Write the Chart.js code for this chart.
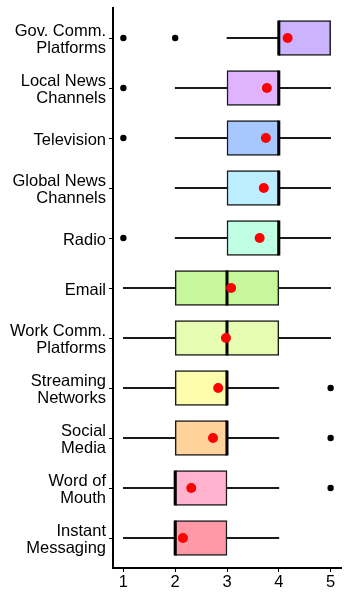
<!DOCTYPE html>
<html>
<head>
<meta charset="utf-8">
<script src="https://cdn.jsdelivr.net/npm/chart.js@4"></script>
<style>
  html, body { margin: 0; padding: 0; background: #fff; }
  #wrap { width: 350px; height: 600px; }
</style>
</head>
<body>
<div id="wrap"><canvas id="chart" width="350" height="600"></canvas></div>
<script>
// categories top to bottom
const categories = [
  'Gov. Comm.\nPlatforms', 'Local News\nChannels', 'Television', 'Global News\nChannels', 'Radio',
  'Email', 'Work Comm.\nPlatforms', 'Streaming\nNetworks', 'Social\nMedia', 'Word of\nMouth', 'Instant\nMessaging'
];
const whiskerLow  = [3, 2, 2, 2, 2, 1, 1, 1, 1, 1, 1];
const q1          = [4, 3, 3, 3, 3, 2, 2, 2, 2, 2, 2];
const medians     = [4, 4, 4, 4, 4, 3, 3, 3, 3, 2, 2];
const q3          = [5, 4, 4, 4, 4, 4, 4, 3, 3, 3, 3];
const whiskerHigh = [5, 5, 5, 5, 5, 5, 5, 4, 4, 4, 4];
const means       = [4.17, 3.77, 3.75, 3.71, 3.63, 3.08, 2.98, 2.83, 2.73, 2.31, 2.15];
// outliers as [category index, value]
const outliers = [[0, 1], [0, 2], [1, 1], [2, 1], [4, 1], [7, 5], [8, 5], [9, 5]];
const boxColors = ['#ccb3ff', '#e0b3ff', '#a6c8ff', '#bdeeff', '#bfffe3',
  '#c6f79b', '#e6fcb0', '#fdfdab', '#ffd39b', '#ffb3cf', '#ff99a8'];
const xTicks = [1, 2, 3, 4, 5];

const pos = categories.map((c, i) => i + 1);
const font = { family: 'Liberation Sans, Arial, sans-serif', size: 16.5, lineHeight: 1.03 };

new Chart(document.getElementById('chart'), {
  type: 'bar',
  data: {
    datasets: [
      {
        type: 'scatter', label: 'mean',
        data: pos.map((p, i) => ({ x: means[i], y: p })),
        backgroundColor: '#ff0000', borderWidth: 0, pointRadius: 5, pointHoverRadius: 5
      },
      {
        type: 'scatter', label: 'median',
        data: pos.map((p, i) => ({ x: medians[i], y: p })),
        pointStyle: 'line', rotation: 90, pointRadius: 17.5, borderColor: '#000', borderWidth: 3,
        pointHoverRadius: 17.5
      },
      {
        type: 'scatter', label: 'outliers',
        data: outliers.map(o => ({ x: o[1], y: o[0] + 1 })),
        backgroundColor: '#000', borderWidth: 0, pointRadius: 3.2, pointHoverRadius: 3.2
      },
      {
        label: 'box',
        data: pos.map((p, i) => ({ x: [q1[i], q3[i]], y: p })),
        backgroundColor: boxColors, borderColor: '#1a1a1a', borderWidth: 1.5,
        borderSkipped: false, barThickness: 35, grouped: false
      },
      {
        label: 'whisker',
        data: pos.map((p, i) => ({ x: [whiskerLow[i], whiskerHigh[i]], y: p })),
        backgroundColor: '#1a1a1a', borderWidth: 0, barThickness: 1.5, grouped: false
      }
    ]
  },
  options: {
    indexAxis: 'y',
    responsive: false,
    animation: false,
    layout: { autoPadding: false, padding: { top: 8, right: 9, left: 0, bottom: 0 } },
    plugins: { legend: { display: false }, tooltip: { enabled: false } },
    scales: {
      y: {
        type: 'linear', reverse: true, min: 0.4, max: 11.6, offset: false,
        afterBuildTicks: s => { s.ticks = pos.map(v => ({ value: v })); },
        afterFit: s => { s.width = 113; s.paddingTop = 0; s.paddingBottom = 0; },
        ticks: {
          autoSkip: false, color: '#000', font, padding: 3, labelOffset: 2,
          callback: v => categories[v - 1] ? categories[v - 1].split('\n') : ''
        },
        grid: { offset: false, drawOnChartArea: false, drawTicks: true, tickLength: 4, color: '#000', lineWidth: 1 },
        border: { display: true, color: '#000', width: 2 }
      },
      x: {
        type: 'linear', min: 0.8, max: 5.2, offset: false,
        afterBuildTicks: s => { s.ticks = xTicks.map(v => ({ value: v })); },
        afterFit: s => { s.height = 32; s.paddingLeft = 0; s.paddingRight = 0; },
        ticks: { color: '#000', font, padding: 2 },
        grid: { offset: false, drawOnChartArea: false, drawTicks: true, tickLength: 4, color: '#000', lineWidth: 1 },
        border: { display: true, color: '#000', width: 2 }
      }
    }
  }
});
</script>
</body>
</html>
